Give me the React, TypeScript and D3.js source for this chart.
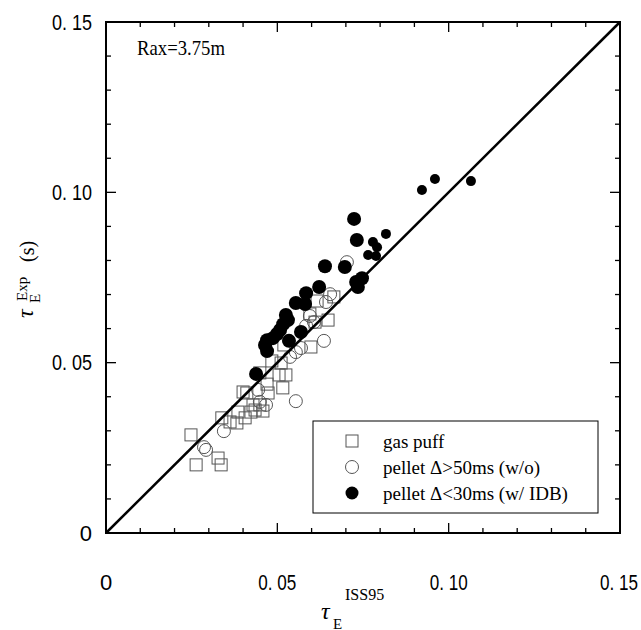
import React from "react";
import * as d3 from "d3";

// values: [tauE ISS95, tauE exp]
const gasPuff: [number, number][] = [
  [0.0616, 0.0681], [0.0665, 0.0693], [0.0648, 0.0625], [0.0595, 0.0643],
  [0.061, 0.0619], [0.0598, 0.0546], [0.0519, 0.0552], [0.0484, 0.0505],
  [0.0511, 0.0499], [0.0505, 0.0464], [0.0525, 0.0464], [0.0449, 0.047],
  [0.0516, 0.0426], [0.047, 0.0437], [0.0473, 0.0411], [0.04, 0.0414],
  [0.0411, 0.0411], [0.0429, 0.0376], [0.0449, 0.0376], [0.0458, 0.0358],
  [0.0435, 0.0361], [0.0423, 0.0355], [0.0385, 0.0355], [0.0406, 0.0338],
  [0.0338, 0.0338], [0.0362, 0.0326], [0.0382, 0.0323], [0.0248, 0.0288],
  [0.0327, 0.022], [0.0263, 0.02], [0.0336, 0.02],
];

const pelletSlow: [number, number][] = [
  [0.0703, 0.0795], [0.0654, 0.0701], [0.0642, 0.0678], [0.0595, 0.0637],
  [0.0607, 0.0619], [0.0584, 0.0608], [0.0636, 0.0564], [0.0569, 0.0543],
  [0.0554, 0.0531], [0.0537, 0.0517], [0.0554, 0.0387], [0.0467, 0.0376],
  [0.0449, 0.0385], [0.0444, 0.042], [0.0344, 0.0299], [0.0292, 0.0244],
  [0.0286, 0.0252],
];

const pelletIdb: [number, number][] = [
  [0.0724, 0.0922], [0.0732, 0.086], [0.0639, 0.0783], [0.0697, 0.0781],
  [0.0622, 0.0722], [0.073, 0.0737], [0.0747, 0.0748], [0.0735, 0.0722],
  [0.0584, 0.0704], [0.0554, 0.0675], [0.0581, 0.0672], [0.0525, 0.064],
  [0.0531, 0.0625], [0.0517, 0.0613], [0.0508, 0.0596], [0.0499, 0.0584],
  [0.0569, 0.059], [0.0534, 0.0564], [0.047, 0.0566], [0.0464, 0.0552],
  [0.047, 0.0534], [0.0438, 0.0467], [0.0487, 0.0572],
];

const pelletIdbLate: [number, number][] = [
  [0.0922, 0.1007], [0.096, 0.1039], [0.1065, 0.1033], [0.0817, 0.0878],
  [0.0779, 0.0854], [0.0791, 0.0839], [0.0765, 0.0816], [0.0788, 0.0813],
];

const majorTicks = [0, 0.05, 0.1, 0.15];
const tickLabels = ["0", "0. 05", "0. 10", "0. 15"];
const legendLabels = ["gas puff", "pellet \u0394>50ms (w/o)", "pellet \u0394<30ms (w/ IDB)"];

const W = 641;
const H = 630;
const sans = "'Liberation Sans', Arial, sans-serif";
const serif = "'Liberation Serif', 'Times New Roman', serif";

export default function App() {
  const x = d3.scaleLinear().domain([0, 0.15]).range([106, 620]);
  const y = d3.scaleLinear().domain([0, 0.15]).range([533, 22]);
  const minor = d3.range(0, 16).map((i) => i / 100);
  const isMajor = (v: number) => Math.abs(v * 20 - Math.round(v * 20)) < 1e-6;
  const diag = d3.line<number>().x((d) => x(d)).y((d) => y(d));
  const [x0, x1] = x.range();
  const [y0, y1] = y.range();

  const sq = 12;
  const legX = 352;
  const legRows = [441, 467, 493];

  return (
    <svg width={W} height={H} style={{ position: "absolute", left: 0, top: 0, background: "#fff" }}>
      {/* markers */}
      <g fill="none" stroke="#555" strokeWidth={1}>
        {gasPuff.map((d, i) => (
          <rect key={"g" + i} x={x(d[0]) - sq / 2} y={y(d[1]) - sq / 2} width={sq} height={sq} />
        ))}
        {pelletSlow.map((d, i) => (
          <circle key={"s" + i} cx={x(d[0])} cy={y(d[1])} r={6.5} />
        ))}
      </g>
      <g fill="#000">
        {pelletIdb.map((d, i) => (
          <circle key={"f" + i} cx={x(d[0])} cy={y(d[1])} r={7} />
        ))}
        {pelletIdbLate.map((d, i) => (
          <circle key={"l" + i} cx={x(d[0])} cy={y(d[1])} r={5} />
        ))}
      </g>

      {/* 1:1 line */}
      <path d={diag([0, 0.15]) || ""} stroke="#000" strokeWidth={2.5} fill="none" />

      {/* frame and ticks */}
      <rect x={x0} y={y1} width={x1 - x0} height={y0 - y1} fill="none" stroke="#000" strokeWidth={2} />
      <g stroke="#000" strokeWidth={1.3}>
        {minor.map((v) => {
          const len = isMajor(v) ? 10 : 5;
          return (
            <g key={"t" + v}>
              <line x1={x(v)} x2={x(v)} y1={y0} y2={y0 - len} />
              <line x1={x(v)} x2={x(v)} y1={y1} y2={y1 + len} />
              <line x1={x0} x2={x0 + len} y1={y(v)} y2={y(v)} />
              <line x1={x1} x2={x1 - len} y1={y(v)} y2={y(v)} />
            </g>
          );
        })}
      </g>

      {/* tick labels */}
      <g fontFamily={sans} fontSize={22} fill="#000">
        {majorTicks.map((v, i) => (
          <text
            key={"xl" + i}
            x={i === 3 ? x(v) - 1 : x(v)}
            y={582}
            textAnchor="middle"
            dominantBaseline="central"
            textLength={i ? 38 : undefined}
            lengthAdjust="spacingAndGlyphs"
          >
            {tickLabels[i]}
          </text>
        ))}
        {majorTicks.map((v, i) => (
          <text
            key={"yl" + i}
            x={92}
            y={y(v)}
            textAnchor="end"
            dominantBaseline="central"
            textLength={i ? 40 : undefined}
            lengthAdjust="spacingAndGlyphs"
          >
            {tickLabels[i]}
          </text>
        ))}
      </g>

      {/* axis titles */}
      <g fontFamily={serif} fill="#000">
        <text x={321} y={619} fontSize={24} fontStyle="italic">τ</text>
        <text x={333} y={629} fontSize={15}>E</text>
        <text x={345} y={600} fontSize={16}>ISS95</text>
      </g>
      <g fontFamily={serif} fill="#000" transform="translate(33,318) rotate(-90)">
        <text x={0} y={0} fontSize={24} fontStyle="italic">τ</text>
        <text x={15} y={7} fontSize={15}>E</text>
        <text x={17} y={-6} fontSize={15}>Exp</text>
        <text x={56} y={1} fontSize={20}>(s)</text>
      </g>

      <text x={137} y={55} fontFamily={serif} fontSize={21} textLength={88} lengthAdjust="spacingAndGlyphs" fill="#000">
        Rax=3.75m
      </text>

      {/* legend */}
      <rect x={313} y={421} width={285} height={92} fill="#fff" stroke="#000" strokeWidth={1} />
      <rect x={legX - sq / 2} y={legRows[0] - sq / 2} width={sq} height={sq} fill="none" stroke="#555" />
      <circle cx={legX} cy={legRows[1]} r={6.5} fill="none" stroke="#555" />
      <circle cx={legX} cy={legRows[2]} r={6.5} fill="#000" />
      {legendLabels.map((t, i) => (
        <text
          key={"lg" + i}
          x={383}
          y={legRows[i]}
          dominantBaseline="central"
          fontFamily={serif}
          fontSize={19}
          fill="#000"
        >
          {t}
        </text>
      ))}
    </svg>
  );
}
